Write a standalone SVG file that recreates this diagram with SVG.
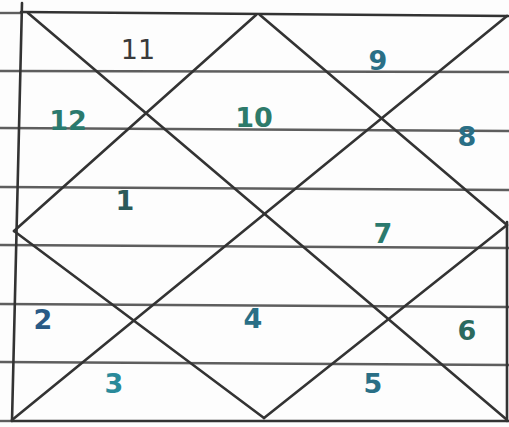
<svg xmlns="http://www.w3.org/2000/svg" width="509" height="427" viewBox="0 0 509 427">
<style>
.rule{stroke:#5e5e5e;stroke-width:2.4;fill:none}
.ln{stroke:#333333;stroke-width:2.6;fill:none;stroke-linecap:round}
.num{font-family:"DejaVu Sans","Liberation Sans",sans-serif;font-size:27px;font-weight:bold;fill:#2a6f86;text-anchor:middle}
</style>
<rect width="509" height="427" fill="#fdfdfd"/>
<g id="paper-rules">
<line class="rule" x1="0" y1="71" x2="509" y2="72"/>
<line class="rule" x1="0" y1="128" x2="509" y2="131"/>
<line class="rule" x1="0" y1="187" x2="509" y2="190"/>
<line class="rule" x1="0" y1="245" x2="509" y2="248"/>
<line class="rule" x1="0" y1="304" x2="509" y2="307"/>
<line class="rule" x1="0" y1="362" x2="509" y2="365"/>
<line class="rule" x1="0" y1="13" x2="22" y2="13"/>
<line class="rule" x1="0" y1="421" x2="12" y2="421"/>
</g>
<g id="connectors">
<line class="ln" x1="21" y1="12" x2="508" y2="16"/>
<line class="ln" x1="22" y1="3" x2="12" y2="421"/>
<line class="ln" x1="12" y1="421" x2="509" y2="421"/>
<line class="ln" x1="507" y1="222" x2="507" y2="421"/>
<line class="ln" x1="28" y1="13" x2="506" y2="419"/>
<line class="ln" x1="507" y1="16" x2="12" y2="420"/>
<line class="ln" x1="256" y1="15" x2="14" y2="231"/>
<line class="ln" x1="260" y1="15" x2="507" y2="225"/>
<line class="ln" x1="507" y1="225" x2="264" y2="418"/>
<line class="ln" x1="14" y1="231" x2="264" y2="418"/>
</g>
<g id="h11"><text class="num" x="138" y="59" style="fill:#3a3a3a;font-weight:normal">11</text></g>
<g id="h12"><text class="num" x="68" y="130" style="fill:#2b7a6e">12</text></g>
<g id="h10"><text class="num" x="254" y="127" style="fill:#2e7a6a">10</text></g>
<g id="h9"><text class="num" x="378" y="70">9</text></g>
<g id="h8"><text class="num" x="467" y="146">8</text></g>
<g id="h1"><text class="num" x="125" y="210" style="fill:#2b5a5a">1</text></g>
<g id="h7"><text class="num" x="383" y="243" style="fill:#2b7a6e">7</text></g>
<g id="h2"><text class="num" x="43" y="329" style="fill:#2a5a86">2</text></g>
<g id="h4"><text class="num" x="253" y="328">4</text></g>
<g id="h6"><text class="num" x="467" y="340" style="fill:#2b6a5e">6</text></g>
<g id="h3"><text class="num" x="114" y="393" style="fill:#2a8a9a">3</text></g>
<g id="h5"><text class="num" x="373" y="393">5</text></g>
</svg>
